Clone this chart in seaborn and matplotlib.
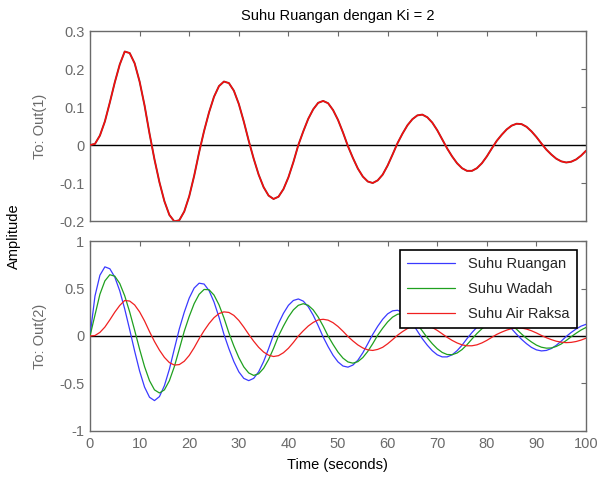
import matplotlib
matplotlib.use("Agg")
import matplotlib.pyplot as plt
import seaborn as sns
import pandas as pd

# ---------------------------------------------------------------------
# Data (1 s steps, 0..100 s)
# ---------------------------------------------------------------------
waktu = list(range(0, 101))

# top panel: To: Out(1)
out1 = [
    0.000, 0.003, 0.025, 0.062, 0.112, 0.165, 0.212, 0.246, 0.242, 0.215,
    0.167, 0.104, 0.030, -0.038, -0.098, -0.148, -0.184, -0.201, -0.198, -0.175,
    -0.135, -0.081, -0.019, 0.037, 0.086, 0.127, 0.155, 0.167, 0.163, 0.143,
    0.108, 0.062, 0.011, -0.036, -0.078, -0.111, -0.133, -0.142, -0.136, -0.116,
    -0.085, -0.045, 0.000, 0.036, 0.069, 0.094, 0.111, 0.116, 0.110, 0.092,
    0.066, 0.033, -0.003, -0.034, -0.062, -0.083, -0.096, -0.100, -0.093, -0.078,
    -0.054, -0.025, 0.005, 0.030, 0.052, 0.068, 0.078, 0.080, 0.073, 0.059,
    0.039, 0.015, -0.009, -0.030, -0.048, -0.061, -0.068, -0.068, -0.061, -0.048,
    -0.030, -0.009, 0.011, 0.027, 0.041, 0.051, 0.056, 0.055, 0.048, 0.036,
    0.021, 0.004, -0.012, -0.025, -0.036, -0.043, -0.046, -0.044, -0.038, -0.028,
    -0.015,
]

# bottom panel: To: Out(2)
suhu_ruangan = [
    0.000, 0.420, 0.640, 0.728, 0.708, 0.620, 0.475, 0.284, 0.067, -0.159,
    -0.369, -0.538, -0.645, -0.680, -0.638, -0.523, -0.350, -0.137, 0.074, 0.250,
    0.399, 0.505, 0.556, 0.547, 0.478, 0.358, 0.199, 0.018, -0.134, -0.269,
    -0.377, -0.446, -0.470, -0.446, -0.377, -0.269, -0.134, 0.012, 0.132, 0.239,
    0.323, 0.374, 0.390, 0.367, 0.308, 0.219, 0.109, -0.010, -0.112, -0.203,
    -0.273, -0.316, -0.328, -0.306, -0.255, -0.177, -0.082, 0.017, 0.102, 0.176,
    0.233, 0.265, 0.271, 0.249, 0.202, 0.134, 0.052, -0.029, -0.097, -0.155,
    -0.198, -0.220, -0.220, -0.198, -0.155, -0.097, -0.028, 0.036, 0.092, 0.140,
    0.173, 0.189, 0.186, 0.165, 0.127, 0.076, 0.018, -0.035, -0.081, -0.120,
    -0.146, -0.157, -0.152, -0.132, -0.098, -0.054, -0.005, 0.037, 0.074, 0.104,
    0.123,
]

suhu_wadah = [
    0.000, 0.220, 0.440, 0.580, 0.645, 0.630, 0.553, 0.423, 0.253, 0.060,
    -0.139, -0.323, -0.471, -0.567, -0.600, -0.567, -0.471, -0.323, -0.139, 0.049,
    0.206, 0.341, 0.439, 0.490, 0.487, 0.431, 0.329, 0.191, 0.033, -0.105,
    -0.227, -0.325, -0.389, -0.415, -0.398, -0.340, -0.248, -0.131, 0.000, 0.105,
    0.200, 0.275, 0.323, 0.340, 0.323, 0.275, 0.200, 0.105, 0.000, -0.089,
    -0.170, -0.233, -0.273, -0.286, -0.270, -0.227, -0.162, -0.081, 0.008, 0.082,
    0.148, 0.199, 0.229, 0.236, 0.220, 0.181, 0.123, 0.053, -0.019, -0.081,
    -0.134, -0.173, -0.195, -0.197, -0.179, -0.143, -0.092, -0.032, 0.026, 0.076,
    0.118, 0.148, 0.163, 0.162, 0.145, 0.114, 0.071, 0.021, -0.025, -0.063,
    -0.096, -0.118, -0.128, -0.126, -0.110, -0.084, -0.048, -0.008, 0.029, 0.063,
    0.090,
]

suhu_air_raksa = [
    0.000, 0.005, 0.038, 0.094, 0.170, 0.251, 0.322, 0.374, 0.368, 0.327,
    0.254, 0.158, 0.046, -0.058, -0.149, -0.225, -0.280, -0.306, -0.301, -0.266,
    -0.205, -0.123, -0.029, 0.056, 0.131, 0.193, 0.236, 0.254, 0.248, 0.217,
    0.164, 0.094, 0.017, -0.055, -0.119, -0.169, -0.202, -0.216, -0.207, -0.176,
    -0.129, -0.068, 0.000, 0.055, 0.105, 0.143, 0.169, 0.176, 0.167, 0.140,
    0.100, 0.050, -0.005, -0.052, -0.094, -0.126, -0.146, -0.152, -0.141, -0.119,
    -0.082, -0.038, 0.008, 0.046, 0.079, 0.103, 0.119, 0.122, 0.111, 0.090,
    0.059, 0.023, -0.014, -0.046, -0.073, -0.093, -0.103, -0.103, -0.093, -0.073,
    -0.046, -0.014, 0.017, 0.041, 0.062, 0.078, 0.085, 0.084, 0.073, 0.055,
    0.032, 0.006, -0.018, -0.038, -0.055, -0.065, -0.070, -0.067, -0.058, -0.043,
    -0.023,
]

label_seri = ["Suhu Ruangan", "Suhu Wadah", "Suhu Air Raksa"]
warna_seri = ["#3a3aff", "#1fa01f", "#f02020"]

yticks_atas = [-0.2, -0.1, 0, 0.1, 0.2, 0.3]
yticks_bawah = [-1, -0.5, 0, 0.5, 1]
xticks = list(range(0, 101, 10))

df = pd.DataFrame({
    "t": waktu,
    label_seri[0]: suhu_ruangan,
    label_seri[1]: suhu_wadah,
    label_seri[2]: suhu_air_raksa,
})

# ---------------------------------------------------------------------
# Figure
# ---------------------------------------------------------------------
sns.set_style("white")
plt.rcParams['font.family'] = ['Liberation Sans', 'DejaVu Sans']

fig = plt.figure(figsize=(5.98, 4.83), dpi=100)
ax1 = fig.add_axes([0.1505, 0.5424, 0.8295, 0.3934])
ax2 = fig.add_axes([0.1505, 0.1077, 0.8295, 0.3933])

abu = "#6a6a6a"
for ax in (ax1, ax2):
    ax.axhline(0, color="black", lw=1.0, zorder=1)
    ax.set_xlim(0, 100)
    ax.set_xticks(xticks)
    ax.tick_params(direction="in", top=True, right=True, length=3.5, width=0.8,
                   color=abu, labelcolor=abu, labelsize=10.5, pad=4)
    for sp in ax.spines.values():
        sp.set_color(abu)
        sp.set_linewidth(1.0)

# top panel: red curve with a thin dark edge
sns.lineplot(x=waktu, y=out1, ax=ax1, color="#8c3030", lw=1.4, zorder=2)
sns.lineplot(x=waktu, y=out1, ax=ax1, color="#ff0a0a", lw=0.9, zorder=3)
ax1.set_ylim(-0.2, 0.3)
ax1.set_yticks(yticks_atas)
ax1.set_yticklabels(["-0.2", "-0.1", "0", "0.1", "0.2", "0.3"])
ax1.tick_params(labelbottom=False)
ax1.set_xlabel("")
ax1.set_ylabel("")

# bottom panel
for nama, warna in zip(label_seri, warna_seri):
    sns.lineplot(data=df, x="t", y=nama, ax=ax2, color=warna, lw=0.9,
                 label=nama, zorder=3)
ax2.set_ylim(-1, 1)
ax2.set_yticks(yticks_bawah)
ax2.set_yticklabels(["-1", "-0.5", "0", "0.5", "1"])
ax2.set_xticklabels([str(v) for v in xticks])
ax2.set_xlabel("")
ax2.set_ylabel("")

leg = ax2.legend(loc="upper right", bbox_to_anchor=(0.982, 0.953),
                 frameon=True, fancybox=False, fontsize=10.5,
                 handlelength=3.3, handletextpad=0.9, borderpad=0.5,
                 labelspacing=0.75, borderaxespad=0)
leg.get_frame().set_edgecolor("black")
leg.get_frame().set_linewidth(1.2)
leg.get_frame().set_alpha(1)

fig.text(0.565, 0.967, "Suhu Ruangan dengan Ki = 2", ha="center", va="center",
         fontsize=10.5, color="black")
fig.text(0.067, 0.739, "To: Out(1)", rotation=90, ha="center", va="center",
         fontsize=10.5, color=abu)
fig.text(0.067, 0.304, "To: Out(2)", rotation=90, ha="center", va="center",
         fontsize=10.5, color=abu)
fig.text(0.024, 0.511, "Amplitude", rotation=90, ha="center", va="center",
         fontsize=10.5, color="black")
fig.text(0.565, 0.037, "Time (seconds)", ha="center", va="center",
         fontsize=10.5, color="black")

fig.savefig("out.png", dpi=100)
